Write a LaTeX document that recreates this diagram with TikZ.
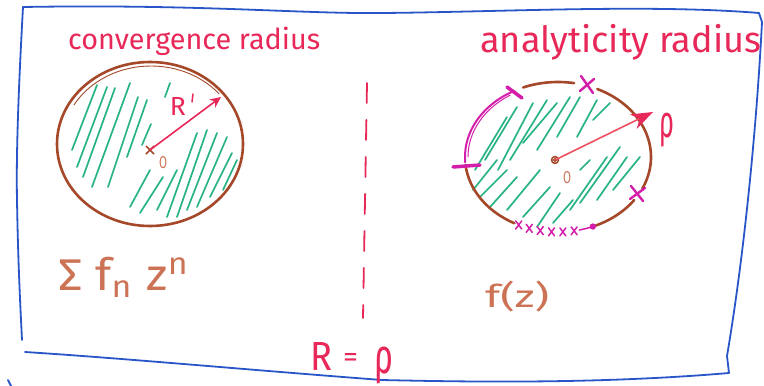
\documentclass[tikz,border=0pt]{standalone}
\usepackage{fontspec}
\setmainfont{Fira Sans}
\usetikzlibrary{arrows.meta}
\definecolor{frameblue}{RGB}{40,85,200}
\definecolor{penred}{RGB}{232,40,88}
\definecolor{penpink}{RGB}{240,80,95}
\definecolor{penbrown}{RGB}{165,72,42}
\definecolor{pengreen}{RGB}{40,180,130}
\definecolor{penmag}{RGB}{212,30,170}
\definecolor{penorange}{RGB}{205,115,85}
\tikzset{
  frameline/.style={frameblue, line width=1.8pt, line cap=round, line join=round},
  circline/.style={penbrown, line width=2.6pt, line cap=round},
  hatch/.style={pengreen, line width=1.7pt, line cap=round},
  magline/.style={penmag, line width=2pt, line cap=round},
  redtext/.style={text=penred, inner sep=0pt},
  orangetext/.style={text=penorange, inner sep=0pt},
  divider/.style={penred, line width=1.8pt, line cap=round, dash pattern=on 20pt off 17pt},
  radarrow/.style={line width=1.6pt, -{Stealth[length=11pt,width=10pt]}},
}
\begin{document}
\begin{tikzpicture}[x=1pt,y=-1pt]
\useasboundingbox (0,0) rectangle (764,386);
\fill[white] (0,0) rectangle (764,386);

% frame
\draw[frameline] (23,7) .. controls (200,4) and (300,14) .. (382,13)
  .. controls (500,12) and (650,4) .. (759,13) -- (762,22)
  .. controls (757,120) and (745,250) .. (727,356) -- (729,373)
  .. controls (600,384) and (470,382) .. (382,380)
  .. controls (250,370) and (120,358) .. (25,352);
\draw[frameline] (23,7) .. controls (19,80) and (16,150) .. (17,200)
  .. controls (18,260) and (20,300) .. (22,340);
\draw[frameline] (8,380) -- (11,386);

% titles
\node[redtext, anchor=south west] (tconv) at (68,56) {\resizebox{252pt}{!}{convergence radius}};
\node[redtext, anchor=south west] (tanal) at (480,60) {\resizebox{281pt}{!}{analyticity radius}};

% divider
\coordinate (dtop) at (367,83);
\coordinate (dbot) at (363,318);
\draw[divider] (dtop) -- (dbot);

% left circle: hatching
\foreach \a/\b/\c/\d in {
  72/150/97/85, 77/167/107/87, 83/177/115/88, 92/187/130/83,
  108/187/138/97, 127/157/147/100, 142/145/151/124, 165/97/170/83,
  130/207/150/170, 140/213/163/177, 157/210/177/170, 167/217/197/133,
  177/217/207/130, 187/210/217/133, 197/207/227/137, 210/197/232/153,
  223/190/237/160}
  \draw[hatch] (\a,\b) -- (\c,\d);
\draw[circline] (150,144) ellipse [x radius=93, y radius=82];
\draw[penbrown, line width=0.9pt] plot[domain=40:150, samples=30] ({151+89*cos(\x)},{144-78*sin(\x)});

\coordinate (cL) at (150,150);
\coordinate (tipL) at (221,97);
\draw[penbrown, line width=1.5pt] (146,146) -- (154,154) (146,154) -- (154,146);
\draw[radarrow, penred] (cL) -- (tipL);
\node[redtext] (labR) at (178,106) {\resizebox{16pt}{18pt}{R}};
\draw[penred, line width=1.5pt, line cap=round] (193,94) -- (192,102);
\node[orangetext] (oL) at (163,163) {\resizebox{8pt}{12pt}{O}};

% left formula
\node[orangetext, anchor=north west] (sumf) at (58,257) {\resizebox*{132pt}{40pt}{Σ f\textsubscript{n} z\textsuperscript{n}}};

% right circle: hatching
\foreach \a/\b/\c/\d in {
  475/170/507/117, 485/160/517/107, 498/170/533/103, 510/160/547/100,
  523/143/557/103, 537/150/570/97, 557/137/580/97, 577/137/597/100,
  593/120/610/103,
  473/190/497/160, 480/197/507/170, 490/207/517/177, 507/210/540/170,
  523/217/550/187, 537/227/560/193, 553/223/573/200, 570/210/607/157,
  580/203/620/147, 597/200/627/157, 613/190/640/157, 580/170/590/160}
  \draw[hatch] (\a,\b) -- (\c,\d);

% right circle: brown arcs
\draw[circline] plot[domain=80:112, samples=20] ({558+93*cos(\x)},{157-75*sin(\x)});
\draw[circline] plot[domain=-25:65, samples=40] ({558+93*cos(\x)},{157-75*sin(\x)});
\draw[circline] plot[domain=-66:-35, samples=20] ({558+93*cos(\x)},{157-75*sin(\x)});
\draw[circline] plot[domain=186:242, samples=30] ({558+93*cos(\x)},{157-75*sin(\x)});
% magenta arc
\draw[magline] plot[domain=118:184, samples=30] ({558+93*cos(\x)},{157-75*sin(\x)});
\draw[penmag, line width=1pt] plot[domain=122:180, samples=30] ({558+90*cos(\x)},{157-73*sin(\x)});
% ticks
\draw[penmag, line width=3.5pt, line cap=round] (507,87) -- (522,98);
\draw[penmag, line width=3.5pt, line cap=round] (453,167) -- (480,165);
% big crosses
\draw[penmag, line width=2.4pt, line cap=round] (581,76) -- (593,93) (580,91) -- (594,79);
\draw[penmag, line width=2.4pt, line cap=round] (631,186) -- (643,201) (630,199) -- (645,188);
% bottom crosses
\foreach \t in {245,252,259,266,273,280}
  \draw[penmag, line width=1.5pt, line cap=round]
    ({558+93*cos(\t)-3},{157-75*sin(\t)-4}) -- ({558+93*cos(\t)+3},{157-75*sin(\t)+4})
    ({558+93*cos(\t)-3},{157-75*sin(\t)+4}) -- ({558+93*cos(\t)+3},{157-75*sin(\t)-4});
\draw[penmag, line width=1.5pt] plot[domain=283:292, samples=10] ({558+93*cos(\x)},{157-75*sin(\x)});
\fill[penmag] ({558+93*cos(292)},{157-75*sin(292)}) circle (3.2);

\coordinate (cR) at (555,160);
\coordinate (tipR) at (653,112);
\draw[penbrown, line width=1.4pt] (cR) circle (3.5) (cR) circle (1.5);
\draw[radarrow, penpink, -{Stealth[length=22pt,width=16pt,color=penred]}] (cR) -- (tipR);
\node[redtext, anchor=north west] (labrho) at (659,113) {\resizebox*{15pt}{34pt}{ρ}};
\node[orangetext] (oR) at (567,178) {\resizebox{8pt}{12pt}{O}};

% right formula
\node[orangetext, anchor=north west] (fz) at (485,281) {\resizebox*{64pt}{31pt}{f(z)}};

% bottom equation
\node[redtext, anchor=north west] (eqR) at (310,342) {\resizebox{22pt}{28pt}{R}};
\node[redtext, anchor=north west] (eqeq) at (343,353) {\resizebox{15pt}{13pt}{=}};
\node[redtext, anchor=north west] (eqrho) at (374,347) {\resizebox*{19pt}{37pt}{ρ}};
\end{tikzpicture}
\end{document}
